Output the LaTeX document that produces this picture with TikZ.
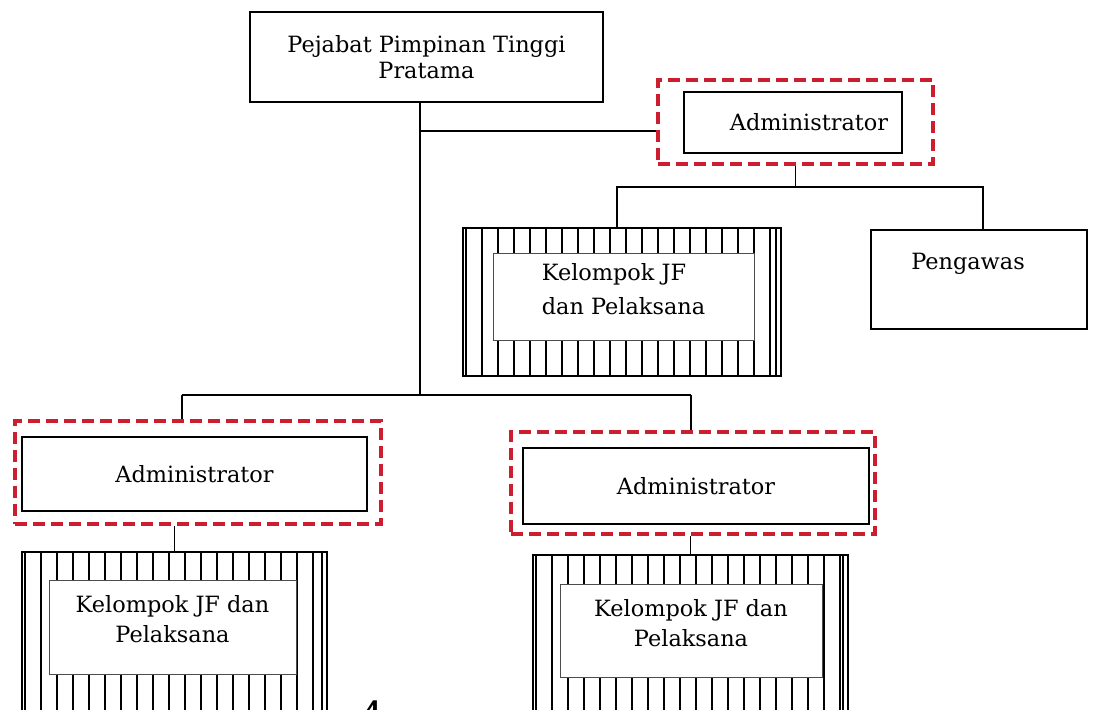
\documentclass[tikz,border=0pt]{standalone}
\usepackage{fontspec}
\setmainfont{DejaVu Serif}
\usepackage{tikz}
\usetikzlibrary{positioning}
\definecolor{dashred}{RGB}{204,30,46}

\begin{document}
\begin{tikzpicture}[x=0.5pt,y=-0.5pt,
    orgbox/.style={draw,line width=1.1pt,font=\fontsize{11.2pt}{13pt}\selectfont,align=center},
    redframe/.style={draw=dashred,line width=1.8pt,dash pattern=on 6pt off 3pt},
    stripes/.style={draw,line width=1pt,path picture={
        \foreach \k in {0,...,20}
          \draw[line width=0.9pt] ([xshift={1.5pt+\k*8pt}]path picture bounding box.south west)
                                -- ([xshift={1.5pt+\k*8pt}]path picture bounding box.north west);
        \draw[line width=0.9pt] ([xshift=-2.5pt]path picture bounding box.south east)
                              -- ([xshift=-2.5pt]path picture bounding box.north east);}},
    jfbox/.style={draw=black!70,line width=0.5pt,fill=white,font=\fontsize{11.2pt}{15pt}\selectfont,text depth=9pt},
    link/.style={line width=0.7pt}]
    \clip (0,0) rectangle (1094,710);

    % top level
    \node[orgbox,minimum width=176.5pt,minimum height=45pt] (P) at (426.5,57) {Pejabat Pimpinan Tinggi\\Pratama};

    % right branch
    \node[redframe,minimum width=137.5pt,minimum height=42pt] (R1) at (795.5,122) {};
    \node[orgbox,minimum width=109pt,minimum height=30.5pt] (A1) at (793,122.5) {\hspace{16pt}Administrator};
    \node[stripes,minimum width=159pt,minimum height=74pt] (S1) at (622,302) {};
    \node[jfbox,minimum width=130.5pt,minimum height=43.5pt,align=left] (K1) at (623.5,297.5) {Kelompok JF\\[2pt]dan Pelaksana};
    \node[orgbox,minimum width=108pt,minimum height=49.5pt,text height=9pt,text depth=19pt] (W) at (979,279.5) {Pengawas\hspace*{11pt}};

    % lower left
    \node[redframe,minimum width=183pt,minimum height=51.5pt] (R2) at (198,472.5) {};
    \node[orgbox,minimum width=172.5pt,minimum height=37pt] (A2) at (194.5,474) {Administrator};
    \node[stripes,minimum width=152.5pt,minimum height=94pt] (S2) at (174.5,646) {};
    \node[jfbox,minimum width=123.5pt,minimum height=47pt,align=center] (K2) at (172.5,628) {Kelompok JF dan\\Pelaksana};

    % lower right
    \node[redframe,minimum width=182pt,minimum height=51pt] (R3) at (693,483) {};
    \node[orgbox,minimum width=173pt,minimum height=38pt] (A3) at (696,486) {Administrator};
    \node[stripes,minimum width=157.5pt,minimum height=95pt] (S3) at (690.5,650) {};
    \node[jfbox,minimum width=131pt,minimum height=46.5pt,align=center] (K3) at (691,631.5) {Kelompok JF dan\\Pelaksana};

    \node[font=\fontsize{20pt}{24pt}\selectfont,inner sep=0pt,anchor=north] (N) at (372,700) {4};

    % junctions
    \coordinate (H) at (420,131);
    \coordinate (T) at (420,395);
    \coordinate (J1) at (617,187);
    \coordinate (J2) at (983,187);
    \coordinate (L) at (182,395);
    \coordinate (Q) at (691,395);

    \draw[link] (P.south -| T) -- (T);
    \draw[link] (H) -- (R1.west |- H);
    \draw[link] (R1.south) -- (R1.south |- J1);
    \draw[link] (S1.north -| J1) -- (J1) -- (J2) -- (W.north -| J2);
    \draw[link] (L) -- (Q);
    \draw[link] (L) -- (R2.north -| L);
    \draw[link] (Q) -- (R3.north -| Q);
    \draw[link] (R2.south -| S2.north) -- (S2.north);
    \draw[link] (R3.south -| S3.north) -- (S3.north);
\end{tikzpicture}
\end{document}
